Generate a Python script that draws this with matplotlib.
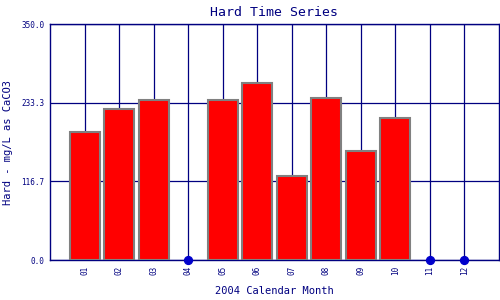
import matplotlib
matplotlib.use("Agg")
import matplotlib.pyplot as plt
import numpy as np

months = ['01', '02', '03', '04', '05', '06', '07', '08', '09', '10', '11', '12']
hard = [189.5, 224.0, 237.5, None, 237.5, 262.0, 124.5, 240.0, 161.0, 210.0, None, None]
yticks = [0.0, 116.7, 233.3, 350.0]

navy = '#000080'
plt.rcParams['font.family'] = 'DejaVu Sans Mono'

fig = plt.figure(figsize=(5, 3), dpi=100)
ax = fig.add_axes([0.1, 0.1333, 0.898, 0.7867])

x = np.arange(1, len(months) + 1)
have = [i for i, v in enumerate(hard) if v is not None]
miss = [i for i, v in enumerate(hard) if v is None]

ax.bar(x[have], [hard[i] for i in have], width=0.87, color='#ff0000',
       edgecolor='#808080', linewidth=1.5, zorder=3)
ax.scatter(x[miss], [0] * len(miss), s=32, color='#0000cc', zorder=4, clip_on=False)

ax.set_xlim(0, 13)
ax.set_ylim(0, 350)
ax.set_xticks(x)
ax.set_xticklabels(months, rotation=90, fontsize=5.5, color=navy)
ax.set_yticks(yticks)
ax.set_yticklabels(['%.1f' % t for t in yticks], fontsize=5.5, color=navy)
ax.tick_params(length=0, pad=4)
ax.grid(True, color=navy, linewidth=0.9, zorder=0)
ax.set_axisbelow(True)
for s in ax.spines.values():
    s.set_color(navy)
    s.set_linewidth(1.0)

ax.set_title('Hard Time Series', fontsize=9.5, color=navy, pad=6)
ax.set_xlabel('2004 Calendar Month', fontsize=7.5, color=navy, labelpad=8)
ax.set_ylabel('Hard - mg/L as CaCO3', fontsize=7.5, color=navy, labelpad=6)

fig.savefig('out.png', dpi=100)
